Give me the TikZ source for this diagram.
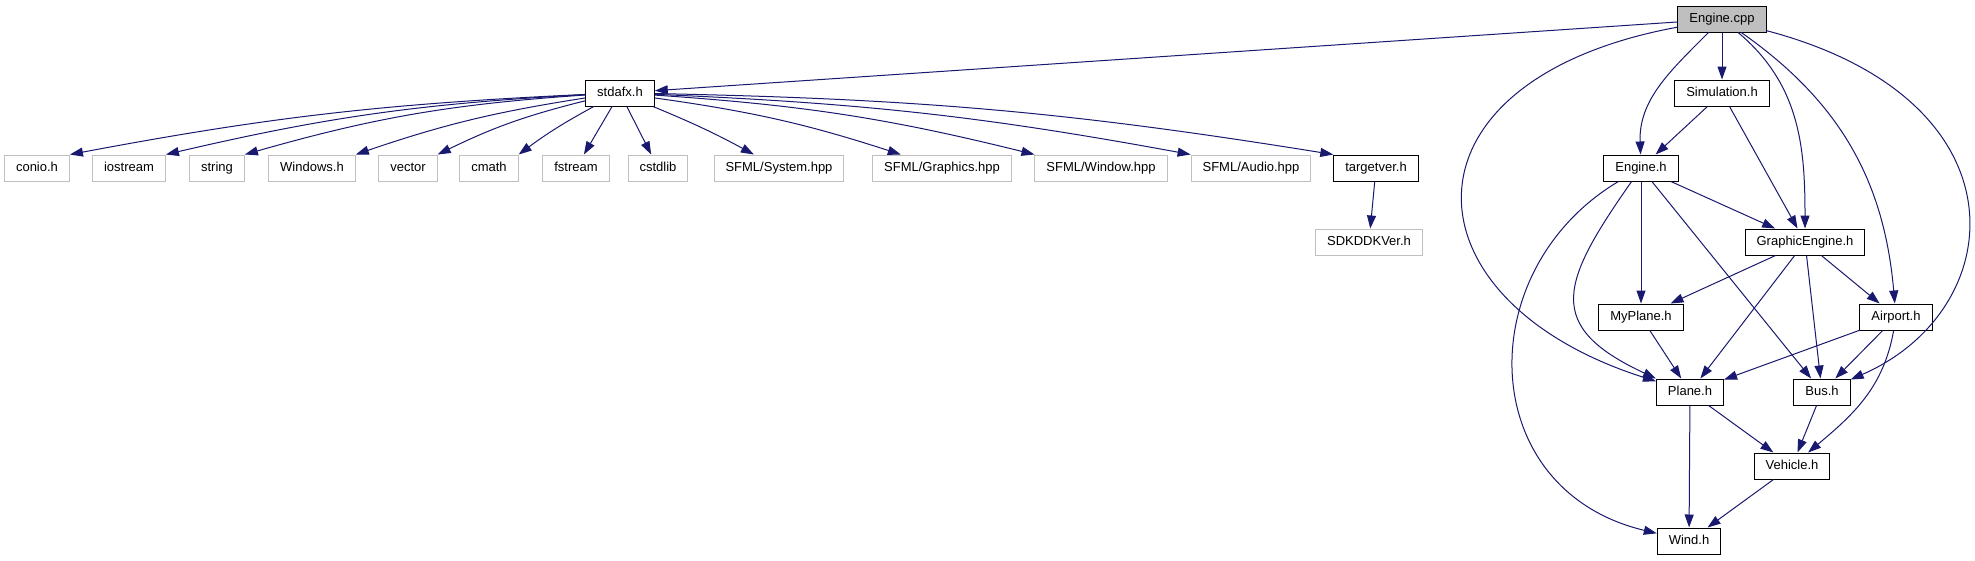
\documentclass[tikz,border=0pt]{standalone}
\usepackage{fontspec}
\setmainfont{Liberation Sans}
\usepackage{xcolor}
\usepackage{tikz}
\usetikzlibrary{arrows.meta,positioning,calc}
\definecolor{edgeblue}{HTML}{191970}
\definecolor{extgray}{HTML}{BFBFBF}
\definecolor{srcfill}{HTML}{BFBFBF}

\begin{document}
\begin{tikzpicture}[
  x=1pt, y=1pt,
  every node/.style={font=\fontsize{13}{15}\selectfont},
  box/.style={draw=black, fill=white, line width=1pt, minimum height=26pt, inner xsep=11.5pt, inner ysep=0pt, text height=9.5pt, text depth=2.7pt},
  ext/.style={box, draw=extgray},
  arr/.style={-{Triangle[length=13pt,width=9pt]}, draw=edgeblue, fill=none, line width=1pt},
]
\path[use as bounding box, fill=white] (0,0) rectangle (1975,-560);
\node[box, fill=srcfill] (cpp) at (1722,-19) {Engine.cpp};
\node[box] (std) at (620,-93) {stdafx.h};
\node[ext] (conio) at (37,-168) {conio.h};
\node[ext] (iostr) at (129,-168) {iostream};
\node[ext] (str) at (217,-168) {string};
\node[ext] (win) at (312,-168) {Windows.h};
\node[ext] (vec) at (408,-168) {vector};
\node[ext] (cmath) at (489,-168) {cmath};
\node[ext] (fstr) at (576,-168) {fstream};
\node[ext] (cstd) at (658,-168) {cstdlib};
\node[ext] (sfsys) at (779,-168) {SFML/System.hpp};
\node[ext] (sfgfx) at (942,-168) {SFML/Graphics.hpp};
\node[ext] (sfwin) at (1101,-168) {SFML/Window.hpp};
\node[ext] (sfaud) at (1251,-168) {SFML/Audio.hpp};
\node[box] (tver) at (1376,-168) {targetver.h};
\node[ext] (sdk) at (1369,-242) {SDKDDKVer.h};
\node[box] (sim) at (1722,-93) {Simulation.h};
\node[box] (engh) at (1641,-168) {Engine.h};
\node[box] (geng) at (1805,-242) {GraphicEngine.h};
\node[box] (mypl) at (1641,-317) {MyPlane.h};
\node[box] (airp) at (1896,-317) {Airport.h};
\node[box] (plane) at (1690,-392) {Plane.h};
\node[box] (bus) at (1822,-392) {Bus.h};
\node[box] (veh) at (1792,-466) {Vehicle.h};
\node[box] (wind) at (1689,-541) {Wind.h};
\draw[arr] (cpp) -- (std);
\draw[arr] (cpp) .. controls (1390,-80) and (1400,-300) .. (plane);
\draw[arr] (cpp) to[out=225, in=92] (engh);
\draw[arr] (cpp) -- (sim);
\draw[arr] (cpp) to[out=-40, in=90] (geng);
\draw[arr] (cpp) to[out=-35, in=95] (airp);
\draw[arr] (cpp) .. controls (2030,-100) and (2010,-310) .. (bus);
\draw[arr] (std) to[bend right=4] (conio.north east);
\draw[arr] (std) to[bend right=5] (iostr.north east);
\draw[arr] (std) to[bend right=6] (str.north east);
\draw[arr] (std) to[bend right=5] (win.north east);
\draw[arr] (std) to[bend right=6] (vec.north east);
\draw[arr] (std) to[bend right=4] (cmath.north east);
\draw[arr] (std) -- (fstr);
\draw[arr] (std) -- (cstd);
\draw[arr] (std) to[bend left=3] (sfsys);
\draw[arr] (std) to[bend left=5] (sfgfx);
\draw[arr] (std) to[bend left=5] (sfwin.north west);
\draw[arr] (std) to[bend left=4] (sfaud.north west);
\draw[arr] (std) to[bend left=4] (tver.north west);
\draw[arr] (tver) -- (sdk);
\draw[arr] (sim) -- (engh);
\draw[arr] (sim) -- (geng);
\draw[arr] (engh) -- (geng);
\draw[arr] (engh) -- (mypl);
\draw[arr] (engh) to[out=235, in=155, looseness=1.6] (plane.north west);
\draw[arr] (engh) -- (bus);
\draw[arr] (engh) .. controls (1470,-270) and (1475,-490) .. (wind);
\draw[arr] (geng) -- (mypl);
\draw[arr] (geng) -- (plane);
\draw[arr] (geng) -- (bus);
\draw[arr] (geng) -- (airp);
\draw[arr] (airp) -- (plane);
\draw[arr] (airp) -- (bus);
\draw[arr] (airp) to[out=-100, in=40] (veh);
\draw[arr] (mypl) -- (plane);
\draw[arr] (plane) -- (veh);
\draw[arr] (plane) -- (wind);
\draw[arr] (bus) -- (veh);
\draw[arr] (veh) -- (wind);
\end{tikzpicture}
\end{document}
